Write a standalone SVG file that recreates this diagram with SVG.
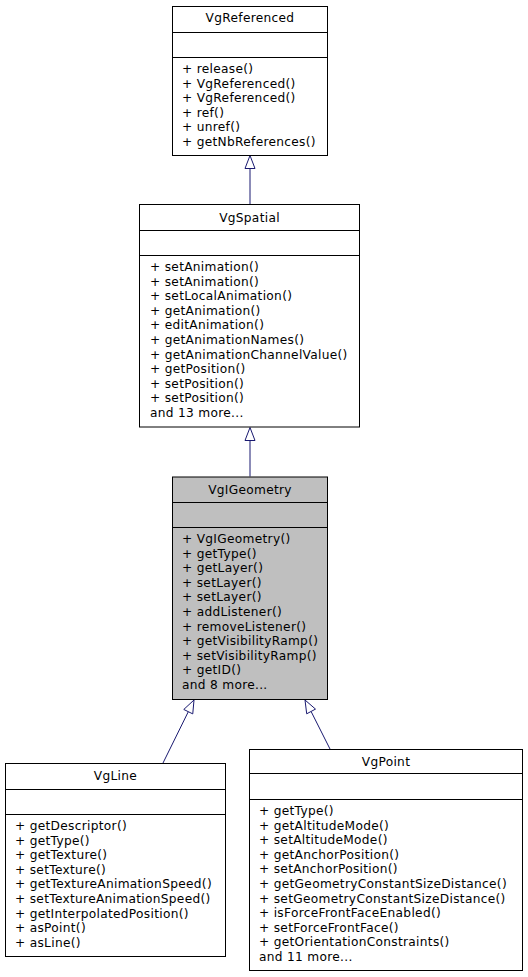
<svg xmlns="http://www.w3.org/2000/svg" width="528" height="977" viewBox="0 0 528 977">
<style>
.box{fill:#ffffff;stroke:#000000;stroke-width:1}
.grey{fill:#bfbfbf}
.div{stroke:#000000;stroke-width:1;fill:none}
text{font-family:"DejaVu Sans",sans-serif;font-size:12.2px;letter-spacing:0.3px;fill:#000000}
.t{text-anchor:middle}
.edge{stroke:#191970;stroke-width:1;fill:none}
.head{fill:#ffffff;stroke:#191970;stroke-width:1}
</style>
<rect width="528" height="977" fill="#ffffff"/>
<g id="connectors">
<line class="edge" x1="250" y1="204" x2="250" y2="168.5"/>
<polygon class="head" points="250,155.5 255,168.5 245,168.5"/>
<line class="edge" x1="250" y1="476.5" x2="250" y2="440.5"/>
<polygon class="head" points="250,427.5 255,440.5 245,440.5"/>
<line class="edge" x1="163" y1="763" x2="188.3" y2="711.7"/>
<polygon class="head" points="194,700 192.75,713.88 183.77,709.46"/>
<line class="edge" x1="330" y1="749" x2="311.1" y2="711.5"/>
<polygon class="head" points="305,700 315.5,709.1 306.7,713.8"/>
</g>
<g id="VgReferenced">
<rect class="box" x="172.5" y="6.5" width="155" height="149"/>
<line class="div" x1="172.5" y1="32.5" x2="327.5" y2="32.5"/>
<line class="div" x1="172.5" y1="57.5" x2="327.5" y2="57.5"/>
<text class="t" x="250" y="22">VgReferenced</text>
<text x="182" y="73">+ release()</text>
<text x="182" y="87.6">+ VgReferenced()</text>
<text x="182" y="102.2">+ VgReferenced()</text>
<text x="182" y="116.8">+ ref()</text>
<text x="182" y="131.4">+ unref()</text>
<text x="182" y="146">+ getNbReferences()</text>
</g>
<g id="VgSpatial">
<rect class="box" x="139.5" y="204.5" width="220" height="222.5"/>
<line class="div" x1="139.5" y1="230.5" x2="359.5" y2="230.5"/>
<line class="div" x1="139.5" y1="255.5" x2="359.5" y2="255.5"/>
<text class="t" x="249.5" y="222">VgSpatial</text>
<text x="150" y="271">+ setAnimation()</text>
<text x="150" y="285.6">+ setAnimation()</text>
<text x="150" y="300.2">+ setLocalAnimation()</text>
<text x="150" y="314.8">+ getAnimation()</text>
<text x="150" y="329.4">+ editAnimation()</text>
<text x="150" y="344">+ getAnimationNames()</text>
<text x="150" y="358.6">+ getAnimationChannelValue()</text>
<text x="150" y="373.2">+ getPosition()</text>
<text x="150" y="387.8">+ setPosition()</text>
<text x="150" y="402.4">+ setPosition()</text>
<text x="150" y="417">and 13 more...</text>
</g>
<g id="VgIGeometry">
<rect class="box grey" x="172.5" y="477" width="155" height="222.5"/>
<line class="div" x1="172.5" y1="502.5" x2="327.5" y2="502.5"/>
<line class="div" x1="172.5" y1="527.5" x2="327.5" y2="527.5"/>
<text class="t" x="250" y="494">VgIGeometry</text>
<text x="182" y="543">+ VgIGeometry()</text>
<text x="182" y="557.6">+ getType()</text>
<text x="182" y="572.2">+ getLayer()</text>
<text x="182" y="586.8">+ setLayer()</text>
<text x="182" y="601.4">+ setLayer()</text>
<text x="182" y="616">+ addListener()</text>
<text x="182" y="630.6">+ removeListener()</text>
<text x="182" y="645.2">+ getVisibilityRamp()</text>
<text x="182" y="659.8">+ setVisibilityRamp()</text>
<text x="182" y="674.4">+ getID()</text>
<text x="182" y="689">and 8 more...</text>
</g>
<g id="VgLine">
<rect class="box" x="5.5" y="763.5" width="220" height="193"/>
<line class="div" x1="5.5" y1="789.5" x2="225.5" y2="789.5"/>
<line class="div" x1="5.5" y1="814.5" x2="225.5" y2="814.5"/>
<text class="t" x="115.5" y="780">VgLine</text>
<text x="15" y="830">+ getDescriptor()</text>
<text x="15" y="844.6">+ getType()</text>
<text x="15" y="859.2">+ getTexture()</text>
<text x="15" y="873.8">+ setTexture()</text>
<text x="15" y="888.4">+ getTextureAnimationSpeed()</text>
<text x="15" y="903">+ setTextureAnimationSpeed()</text>
<text x="15" y="917.6">+ getInterpolatedPosition()</text>
<text x="15" y="932.2">+ asPoint()</text>
<text x="15" y="946.8">+ asLine()</text>
</g>
<g id="VgPoint">
<rect class="box" x="249.5" y="749.5" width="273" height="221"/>
<line class="div" x1="249.5" y1="773.5" x2="522.5" y2="773.5"/>
<line class="div" x1="249.5" y1="799.5" x2="522.5" y2="799.5"/>
<text class="t" x="386" y="766">VgPoint</text>
<text x="259" y="815">+ getType()</text>
<text x="259" y="829.6">+ getAltitudeMode()</text>
<text x="259" y="844.2">+ setAltitudeMode()</text>
<text x="259" y="858.8">+ getAnchorPosition()</text>
<text x="259" y="873.4">+ setAnchorPosition()</text>
<text x="259" y="888">+ getGeometryConstantSizeDistance()</text>
<text x="259" y="902.6">+ setGeometryConstantSizeDistance()</text>
<text x="259" y="917.2">+ isForceFrontFaceEnabled()</text>
<text x="259" y="931.8">+ setForceFrontFace()</text>
<text x="259" y="946.4">+ getOrientationConstraints()</text>
<text x="259" y="961">and 11 more...</text>
</g>
</svg>
